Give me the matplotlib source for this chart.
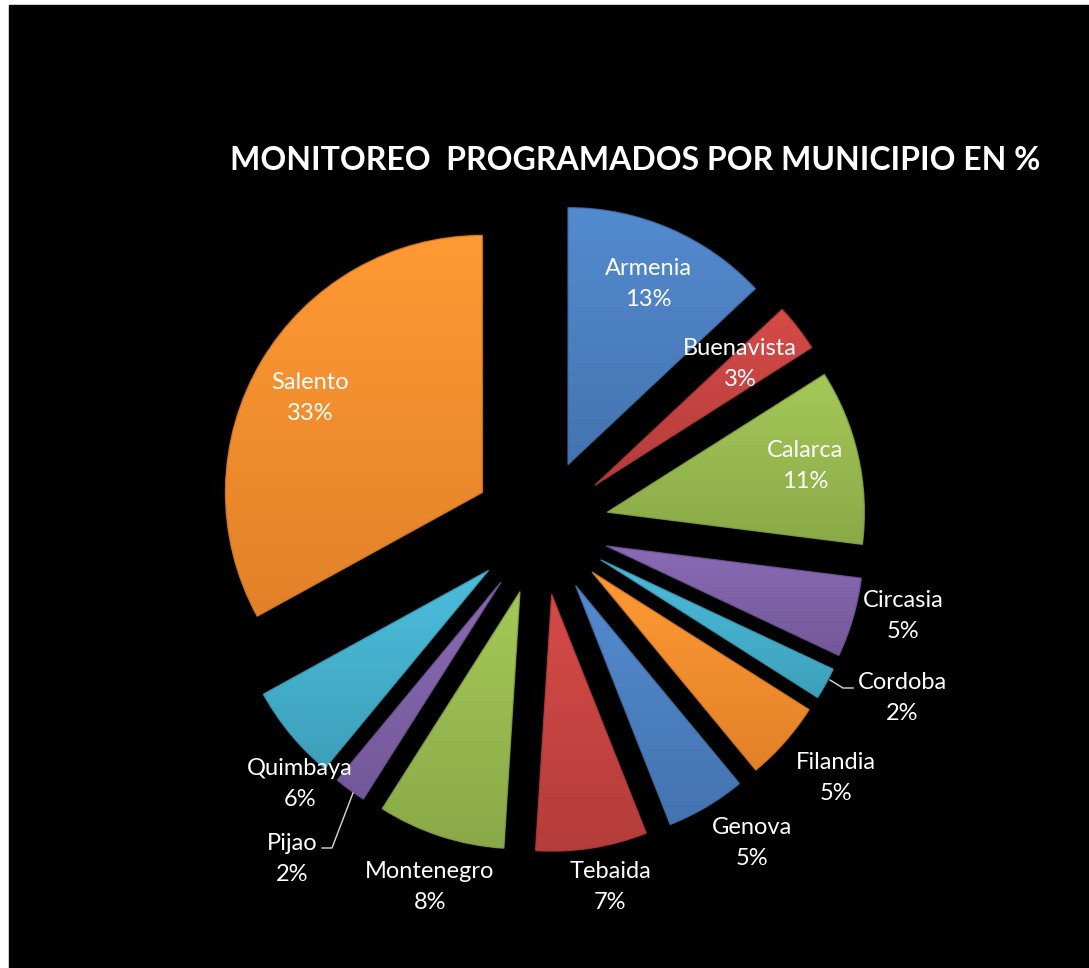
import numpy as np
import matplotlib
matplotlib.use("Agg")
import matplotlib.pyplot as plt
from matplotlib.colors import to_rgb
from matplotlib.patches import Rectangle, Wedge

# ---- data ----
municipios = ["Armenia", "Buenavista", "Calarca", "Circasia", "Cordoba", "Filandia",
              "Genova", "Tebaida", "Montenegro", "Pijao", "Quimbaya", "Salento"]
porcentajes = [13, 3, 11, 5, 2, 5, 5, 7, 8, 2, 6, 33]
titulo = "MONITOREO  PROGRAMADOS POR MUNICIPIO EN %"

# ---- style / layout ----
W, H = 1089, 968
palette = ["#4A7EBF", "#C4423F", "#96B84E", "#7D60A6", "#43AECB", "#F58C2C"]
colors = [palette[i % len(palette)] for i in range(len(municipios))]
# label anchor positions in pixels (from top-left)
label_px = [(648, 284), (740, 364), (805, 466), (903, 616), (902, 698), (836, 778),
            (752, 843), (610, 887), (430, 887), (292, 859), (300, 784), (310, 398)]

cx, cy, R = 541, H - 527, 257
explode_px = 68

fig = plt.figure(figsize=(W / 100, H / 100), dpi=100, facecolor="white")
ax = fig.add_axes([0, 0, 1, 1])
ax.add_patch(Rectangle((9, 0), W - 9, H - 5, color="black", zorder=0))

wedges, _ = ax.pie(porcentajes, colors=colors, startangle=90, counterclock=False,
                   explode=[explode_px] * len(porcentajes), radius=R, center=(cx, cy),
                   wedgeprops=dict(linewidth=0, zorder=2))

# gradient fill for a soft 3D look
for w, c in zip(wedges, colors):
    base = np.array(to_rgb(c))
    ext = w.get_path().get_extents()
    n = 64
    t = np.linspace(0, 1, n)[:, None]
    top = np.clip(base * 1.06 + 0.02, 0, 1)
    bot = np.clip(base * 0.92, 0, 1)
    grad = (top * (1 - t) + bot * t)[:, None, :]
    im = ax.imshow(grad, extent=[ext.x0, ext.x1, ext.y0, ext.y1], origin="upper",
                   aspect="auto", zorder=3, interpolation="bilinear")
    im.set_clip_path(w)
    # soft bevel edge
    ax.add_patch(Wedge(w.center, w.r, w.theta1, w.theta2, facecolor="none",
                       edgecolor=np.clip(base * 0.85, 0, 1), linewidth=1.0,
                       alpha=0.8, zorder=4))

for name, pct, (lx, ly) in zip(municipios, porcentajes, label_px):
    ax.text(lx, H - ly, f"{name}\n{pct}%", ha="center", va="center", color="white",
            fontsize=17, family="Lato", linespacing=1.55, zorder=6)

# leader lines (Cordoba, Pijao)
ax.plot([830, 843, 853], [H - 680, H - 688, H - 688], color="#d9d9d9", lw=1, zorder=5)
ax.plot([353, 332, 322], [H - 793, H - 848, H - 848], color="#d9d9d9", lw=1, zorder=5)

ax.text(635, H - 160, titulo, ha="center", va="center", color="white",
        fontsize=23, fontweight="bold", family="Lato", zorder=6)

ax.set_xlim(0, W)
ax.set_ylim(0, H)
ax.set_aspect("auto")
ax.axis("off")
fig.savefig("out.png", dpi=100, facecolor="white")
